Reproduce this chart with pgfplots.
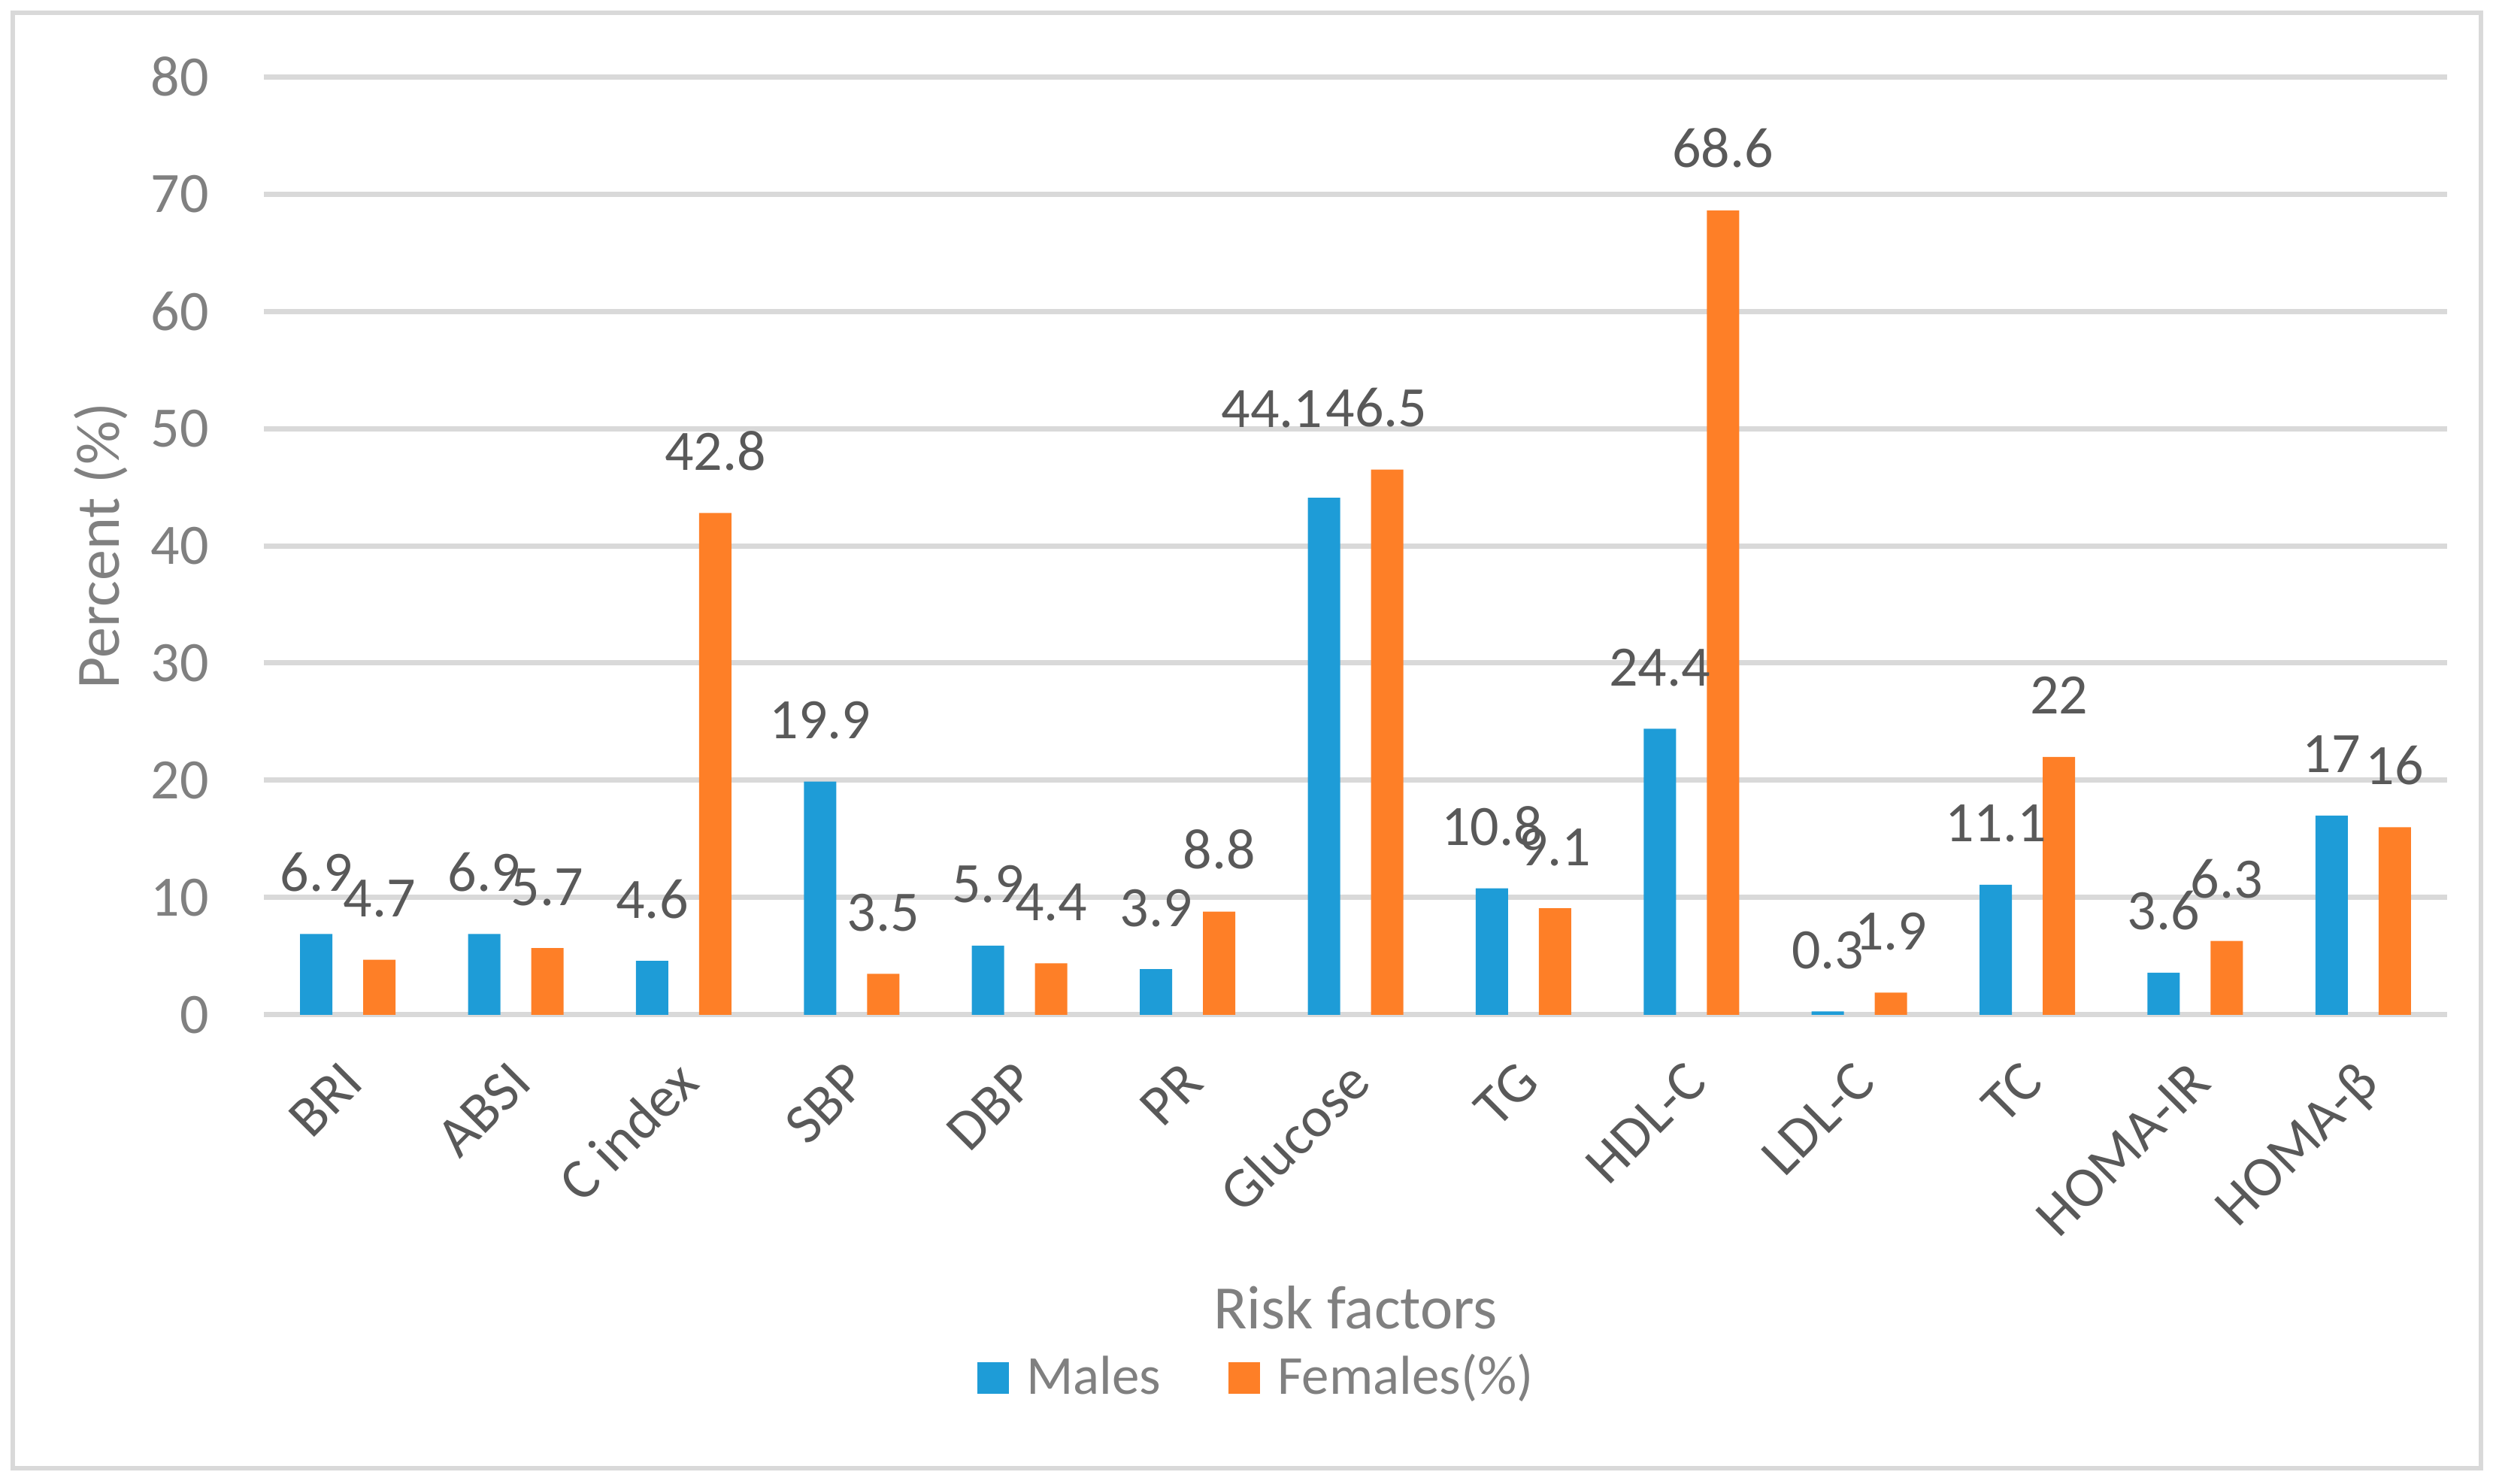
\documentclass[border=0pt]{standalone}
\usepackage{fontspec}
\setmainfont{Carlito}
\usepackage{pgfplots}
\pgfplotsset{compat=1.18}
\definecolor{mblue}{HTML}{1E9CD7}
\definecolor{forange}{HTML}{FE7F27}
\definecolor{gridc}{HTML}{D9D9D9}
\definecolor{tickc}{HTML}{808080}
\definecolor{labc}{HTML}{595959}
\pgfplotsset{sqlegend/.style={legend image code/.code={\fill[##1] (0pt,0pt) rectangle (4.2pt,4.2pt); \path (6.5pt,0pt);}}}
\pgfplotstableread{
x y dx dy
0 6.9 0 0
1 6.9 0 0
2 4.6 0 0
3 19.9 0 0
4 5.9 0 0
5 3.9 0 0
6 44.1 -6.9 3.7
7 10.8 0 0
8 24.4 0 0
9 0.3 0 0
10 11.1 0 0
11 3.6 0 0
12 17 0 0
}\males
\pgfplotstableread{
x y dx dy
0 4.7 0 0
1 5.7 0 0
2 42.8 0 0
3 3.5 0 0
4 4.4 0 0
5 8.8 0 0
6 46.5 -1.4 0
7 9.1 0 0
8 68.6 0 0
9 1.9 0 0
10 22 0 0
11 6.3 0 0
12 16 0 0
}\females
\begin{document}
\begin{tikzpicture}
\useasboundingbox (-35.1pt,-62.4pt) rectangle (296.9pt,135pt);
\draw[gridc, line width=0.6pt] (-33.4pt,-60.3pt) rectangle (294.9pt,133.3pt);
\begin{axis}[
  at={(0pt,0pt)}, anchor=south west,
  scale only axis, width=290.4pt, height=124.8pt,
  xmin=-0.5, xmax=12.5, ymin=0, ymax=80,
  ybar=4.1pt, bar width=4.3pt,
  clip=false,
  /pgf/number format/assume math mode=true,
  xtick={0,...,12},
  xticklabels={BRI,ABSI,C index,SBP,DBP,PR,Glucose,TG,HDL-C,LDL-C,TC,HOMA-IR,HOMA-β},
  ytick={0,10,...,80},
  ymajorgrids, major grid style={draw=gridc, line width=0.7pt},
  axis line style={draw=none}, tick style={draw=none},
  yticklabel style={anchor=east, inner sep=0pt, xshift=-7.1pt, font=\fontsize{7.6pt}{9pt}\selectfont, text=tickc},
  xticklabel style={xshift=2.5pt, yshift=-5pt, rotate=45, anchor=base east, inner sep=0pt, font=\fontsize{7.6pt}{9pt}\selectfont, text=labc},
  every axis x label/.style={at={(axis description cs:0.5,0)}, yshift=-41.8pt, anchor=base, font=\fontsize{8.2pt}{10pt}\selectfont, text=tickc},
  every axis y label/.style={at={(axis description cs:0,0.5)}, xshift=-19.2pt, rotate=90, anchor=base, font=\fontsize{8.2pt}{10pt}\selectfont, text=tickc},
  xlabel={Risk factors},
  ylabel={Percent (\%)},
  nodes near coords={\pgfmathprintnumber[fixed,precision=1]{\pgfplotspointmeta}},
  every node near coord/.append style={anchor=base, yshift=5.7pt, inner sep=0pt, font=\fontsize{7.6pt}{9pt}\selectfont, text=labc},
  visualization depends on={\thisrow{dx}\as\dx},
  visualization depends on={\thisrow{dy}\as\dy},
  legend style={at={(axis description cs:0.4542,0)}, yshift=-48.5pt, anchor=center, draw=none, fill=none, inner sep=0pt, legend columns=2, font=\fontsize{7.3pt}{9pt}\selectfont, text=tickc, nodes={inner sep=0pt, anchor=base}, /tikz/every even column/.append style={column sep=9pt}},
  every axis plot post/.append style={sqlegend},
]
\addplot[fill=mblue, draw=none,
  every node near coord/.append style={xshift=\dx pt, yshift=\dy pt}]
  table[x=x, y=y] {\males};
\addplot[fill=forange, draw=none,
  every node near coord/.append style={xshift=\dx pt, yshift=\dy pt}]
  table[x=x, y=y] {\females};
\legend{Males, Females(\%)}
\end{axis}
\end{tikzpicture}
\end{document}
